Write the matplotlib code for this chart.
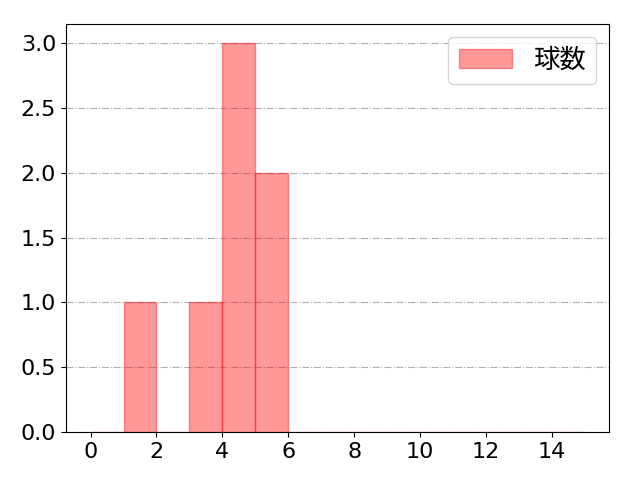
import matplotlib
matplotlib.use('Agg')
import matplotlib.pyplot as plt
import numpy as np

plt.rcParams['font.family'] = ['DejaVu Sans', 'Noto Sans CJK JP']
plt.rcParams['font.size'] = 16

# observed values (one entry per count)
values = [1, 3, 4, 4, 4, 5, 5]
bin_edges = list(range(0, 16))
label = '球数'

fig, ax = plt.subplots(figsize=(6.4, 4.8), dpi=100)
fig.subplots_adjust(left=0.103, right=0.952, top=0.95, bottom=0.1)
ax.hist(values, bins=bin_edges, color='red', alpha=0.4, edgecolor='red', label=label)
ax.grid(axis='y', linestyle='-.', color='#b0b0b0')
ax.set_axisbelow(True)
ax.set_xticks(range(0, 16, 2))
ax.legend(loc='upper right', fontsize=19)

plt.savefig('out.png')
plt.close()
